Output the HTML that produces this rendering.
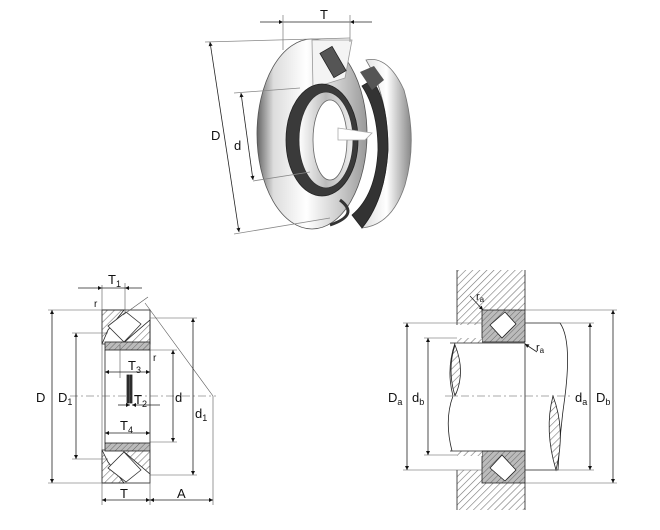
<!DOCTYPE html>
<html><head><meta charset="utf-8"><style>
html,body{margin:0;padding:0;background:#fff;}
svg{display:block;font-family:"Liberation Sans",sans-serif;}
</style></head><body>
<svg width="660" height="530" viewBox="0 0 660 530" xmlns="http://www.w3.org/2000/svg">
<defs>
<pattern id="h" width="5" height="5" patternUnits="userSpaceOnUse" patternTransform="rotate(45)">
<rect width="5" height="5" fill="#fff"/><line x1="0" y1="0" x2="0" y2="5" stroke="#777" stroke-width="1.2"/></pattern>
<pattern id="hg" width="4" height="4" patternUnits="userSpaceOnUse" patternTransform="rotate(45)">
<rect width="4" height="4" fill="#bbb"/><line x1="0" y1="0" x2="0" y2="4" stroke="#666" stroke-width="1"/></pattern>
<linearGradient id="met" x1="0" y1="0" x2="1" y2="0">
<stop offset="0" stop-color="#666"/><stop offset="0.15" stop-color="#ddd"/><stop offset="0.45" stop-color="#fff"/><stop offset="0.75" stop-color="#ccc"/><stop offset="1" stop-color="#999"/></linearGradient>
<linearGradient id="met2" x1="0" y1="0" x2="1" y2="0">
<stop offset="0" stop-color="#ddd"/><stop offset="0.5" stop-color="#fff"/><stop offset="1" stop-color="#888"/></linearGradient>
<linearGradient id="met3" x1="0" y1="0" x2="1" y2="0">
<stop offset="0" stop-color="#fff"/><stop offset="0.5" stop-color="#bbb"/><stop offset="1" stop-color="#eee"/></linearGradient>
<marker id="a" viewBox="0 0 10 10" refX="10" refY="5" markerWidth="7" markerHeight="5" orient="auto-start-reverse"><path d="M0,0L10,5L0,10z" fill="#111"/></marker>
</defs>
<g stroke="#222" stroke-width="0.8" fill="none">
<!-- TOP 3D bearing -->
<path d="M366,60 Q388,55 404,90 Q418,140 405,185 Q392,225 362,228 Q385,200 388,150 Q388,95 366,60Z" fill="url(#met2)" stroke="#777"/>
<path d="M362,228 Q385,200 388,150 Q388,100 372,80 L362,86 Q378,110 378,150 Q376,195 352,215Z" fill="#333" stroke="#222"/>
<path d="M360,72 L374,66 L384,80 L372,90Z" fill="#555" stroke="none"/>
<ellipse cx="312" cy="134" rx="55" ry="95" fill="url(#met)" stroke="#555"/>
<path d="M312,40 L352,40 L345,78 L313,88Z" fill="#f4f4f4" stroke="#999"/>
<rect x="326" y="48" width="14" height="28" fill="#555" transform="rotate(-30 333 62)"/>
<ellipse cx="322" cy="140" rx="36" ry="56" fill="#3a3a3a" stroke="#222"/>
<ellipse cx="326" cy="140" rx="27" ry="48" fill="url(#met3)" stroke="#333"/>
<ellipse cx="330" cy="140" rx="17" ry="40" fill="#fff" stroke="#666"/>
<path d="M338,128 L372,133 L365,140 L338,140Z" fill="#fff" stroke="#aaa"/>
<path d="M340,200 Q360,215 330,225" stroke="#333" stroke-width="3"/>
<!-- top dims -->
<line x1="260" y1="22" x2="283" y2="22" marker-end="url(#a)"/>
<line x1="283" y1="22" x2="350" y2="22"/>
<line x1="372" y1="22" x2="350" y2="22" marker-end="url(#a)"/>
<line x1="283" y1="15" x2="283" y2="50" stroke="#888"/>
<line x1="350" y1="15" x2="350" y2="42" stroke="#888"/>
<line x1="205" y1="42" x2="350" y2="38" stroke="#888"/>
<line x1="210" y1="42" x2="239" y2="232" marker-start="url(#a)" marker-end="url(#a)"/>
<line x1="234" y1="234" x2="330" y2="218" stroke="#888"/>
<line x1="234" y1="93" x2="300" y2="88" stroke="#888"/>
<line x1="241" y1="93" x2="253" y2="180" marker-start="url(#a)" marker-end="url(#a)"/>
<line x1="253" y1="181" x2="310" y2="172" stroke="#888"/>

<!-- LEFT section -->
<path d="M102,310 L124,310 L108,330 L102,344 Z" fill="url(#h)"/>
<path d="M122,344 L150,320 L150,344 Z" fill="url(#h)"/>
<rect x="102" y="310" width="48" height="34" fill="none"/>
<path d="M108,326 L126,312 L141,324 L124,342 Z" fill="#fff" stroke="#333"/>
<rect x="105" y="342" width="45" height="8" fill="url(#hg)"/>
<path d="M102,483 L124,483 L108,462 L102,450 Z" fill="url(#h)"/>
<path d="M122,450 L150,474 L150,450 Z" fill="url(#h)"/>
<rect x="102" y="450" width="48" height="33" fill="none"/>
<path d="M108,468 L126,482 L141,470 L124,452 Z" fill="#fff" stroke="#333"/>
<rect x="105" y="443" width="45" height="8" fill="url(#hg)"/>
<line x1="105" y1="350" x2="105" y2="443"/>
<line x1="150" y1="350" x2="150" y2="443"/>
<rect x="127" y="375" width="2" height="28" fill="#333"/>
<rect x="130" y="375" width="2" height="28" fill="#333"/>
<g stroke="#555" stroke-width="0.6">
<line x1="48" y1="310" x2="102" y2="310"/><line x1="48" y1="483" x2="102" y2="483"/>
<line x1="72" y1="333" x2="108" y2="333"/><line x1="72" y1="459" x2="108" y2="459"/>
<line x1="150" y1="318" x2="197" y2="318"/><line x1="150" y1="475" x2="197" y2="475"/>
<line x1="150" y1="350" x2="177" y2="350"/><line x1="150" y1="442" x2="177" y2="442"/>
<line x1="102" y1="285" x2="102" y2="505"/><line x1="150" y1="443" x2="150" y2="505"/>
<line x1="125" y1="283" x2="125" y2="312"/><line x1="213" y1="396" x2="213" y2="505"/>
<line x1="145" y1="303" x2="213" y2="396"/><line x1="123" y1="315" x2="148" y2="297"/>
<line x1="120" y1="345" x2="120" y2="378"/>
<line x1="70" y1="396" x2="216" y2="396" stroke-dasharray="8,3,2,3"/>
</g>
<line x1="52" y1="310" x2="52" y2="483" marker-start="url(#a)" marker-end="url(#a)"/>
<line x1="76" y1="333" x2="76" y2="459" marker-start="url(#a)" marker-end="url(#a)"/>
<line x1="173" y1="350" x2="173" y2="442" marker-start="url(#a)" marker-end="url(#a)"/>
<line x1="193" y1="318" x2="193" y2="475" marker-start="url(#a)" marker-end="url(#a)"/>
<line x1="102" y1="500" x2="150" y2="500" marker-start="url(#a)" marker-end="url(#a)"/>
<line x1="150" y1="500" x2="213" y2="500" marker-start="url(#a)" marker-end="url(#a)"/>
<line x1="78" y1="288" x2="102" y2="288" marker-end="url(#a)"/><line x1="102" y1="288" x2="125" y2="288"/><line x1="142" y1="288" x2="125" y2="288" marker-end="url(#a)"/>
<line x1="105" y1="372" x2="150" y2="372" marker-start="url(#a)" marker-end="url(#a)"/>
<line x1="118" y1="405" x2="130" y2="405" marker-end="url(#a)"/><line x1="160" y1="405" x2="132" y2="405" marker-end="url(#a)"/>
<line x1="105" y1="433" x2="150" y2="433" marker-start="url(#a)" marker-end="url(#a)"/>

<!-- RIGHT -->
<rect x="457" y="270" width="68" height="55" fill="url(#h)" stroke="none"/>
<rect x="457" y="470" width="68" height="40" fill="url(#h)" stroke="none"/>
<line x1="457" y1="270" x2="457" y2="325"/><line x1="525" y1="270" x2="525" y2="310"/>
<line x1="457" y1="470" x2="457" y2="510"/><line x1="525" y1="483" x2="525" y2="510"/>
<rect x="482" y="310" width="43" height="32" fill="url(#hg)"/>
<path d="M490,325 L505,312 L516,324 L502,338 Z" fill="#fff"/>
<rect x="482" y="451" width="43" height="32" fill="url(#hg)"/>
<path d="M490,468 L505,481 L516,470 L502,455 Z" fill="#fff"/>
<rect x="457" y="338" width="25" height="5" fill="url(#h)" stroke="none"/>
<rect x="457" y="451" width="25" height="5" fill="url(#h)" stroke="none"/>
<line x1="450" y1="343" x2="525" y2="343"/><line x1="450" y1="451" x2="525" y2="451"/>
<line x1="525" y1="343" x2="525" y2="451"/>
<path d="M455,343 Q446,370 453,396 Q444,420 452,451"/>
<path d="M455,345 Q466,372 455,396 Q447,370 455,345Z" fill="url(#h)"/>
<path d="M525,323 L560,323 Q572,340 565,396 Q560,430 558,470 L525,470"/>
<path d="M553,396 Q566,430 556,470 Q544,430 553,396Z" fill="url(#h)"/>
<g stroke="#555" stroke-width="0.6">
<line x1="403" y1="323" x2="482" y2="323"/><line x1="403" y1="470" x2="482" y2="470"/>
<line x1="424" y1="338" x2="457" y2="338"/><line x1="424" y1="455" x2="457" y2="455"/>
<line x1="525" y1="323" x2="594" y2="323"/><line x1="525" y1="470" x2="594" y2="470"/>
<line x1="525" y1="310" x2="617" y2="310"/><line x1="525" y1="483" x2="617" y2="483"/>
<line x1="445" y1="396" x2="570" y2="396" stroke-dasharray="8,3,2,3"/>
</g>
<line x1="407" y1="323" x2="407" y2="470" marker-start="url(#a)" marker-end="url(#a)"/>
<line x1="428" y1="338" x2="428" y2="455" marker-start="url(#a)" marker-end="url(#a)"/>
<line x1="590" y1="323" x2="590" y2="470" marker-start="url(#a)" marker-end="url(#a)"/>
<line x1="613" y1="310" x2="613" y2="483" marker-start="url(#a)" marker-end="url(#a)"/>
<line x1="470" y1="296" x2="483" y2="310" marker-end="url(#a)"/>
<line x1="537" y1="352" x2="525" y2="344" marker-end="url(#a)"/>
</g>
<g fill="#111" font-size="13">
<text x="320" y="19">T</text>
<text x="211" y="140">D</text>
<text x="234" y="150">d</text>
<text x="36" y="402">D</text>
<text x="58" y="402">D<tspan font-size="9" dy="3">1</tspan></text>
<text x="175" y="402">d</text>
<text x="195" y="418">d<tspan font-size="9" dy="3">1</tspan></text>
<text x="108" y="284">T<tspan font-size="9" dy="3">1</tspan></text>
<text x="94" y="307" font-size="10">r</text>
<text x="153" y="361" font-size="10">r</text>
<text x="128" y="370">T<tspan font-size="9" dy="3">3</tspan></text>
<text x="134" y="404">T<tspan font-size="9" dy="3">2</tspan></text>
<text x="120" y="430">T<tspan font-size="9" dy="3">4</tspan></text>
<text x="120" y="498">T</text>
<text x="177" y="498">A</text>
<text x="388" y="402">D<tspan font-size="9" dy="3">a</tspan></text>
<text x="412" y="402">d<tspan font-size="9" dy="3">b</tspan></text>
<text x="575" y="402">d<tspan font-size="9" dy="3">a</tspan></text>
<text x="596" y="402">D<tspan font-size="9" dy="3">b</tspan></text>
<text x="476" y="300" font-size="11">r<tspan font-size="8" dy="2">a</tspan></text>
<text x="536" y="351" font-size="11">r<tspan font-size="8" dy="2">a</tspan></text>
</g>
</svg>
</body></html>
